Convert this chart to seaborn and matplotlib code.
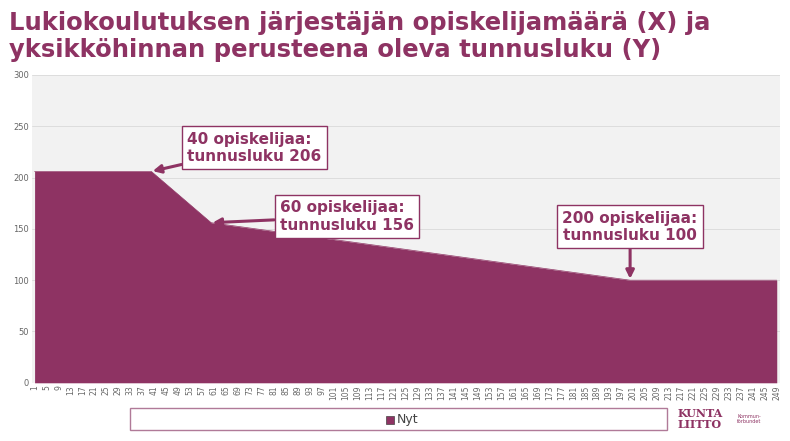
import numpy as np
import matplotlib.pyplot as plt
import seaborn as sns
from matplotlib.patches import Rectangle

# breakpoints of the funding curve
students = [1, 40, 60, 200, 249]
tunnusluku = [206, 206, 156, 100, 100]
x_ticks = list(range(1, 250, 4))
y_ticks = [0, 50, 100, 150, 200, 250, 300]
notes = [(40, 206, "40 opiskelijaa:\ntunnusluku 206"),
         (60, 156, "60 opiskelijaa:\ntunnusluku 156"),
         (200, 100, "200 opiskelijaa:\ntunnusluku 100")]

purple = "#8e3363"
sns.set_style("white")
fig = plt.figure(figsize=(7.9, 4.41), dpi=100)
ax = fig.add_axes([0.04, 0.132, 0.947, 0.698])
ax.set_facecolor("#f2f2f2")

sns.lineplot(x=students, y=tunnusluku, ax=ax, color=purple, lw=0.5)
ax.fill_between(students, tunnusluku, 0, color=purple, lw=0)

ax.set_xlim(0, 250)
ax.set_ylim(0, 300)
ax.set_xticks(x_ticks)
ax.set_xticklabels([str(t) for t in x_ticks], rotation=90, fontsize=5.5, color="#666666")
ax.set_yticks(y_ticks)
ax.set_yticklabels([str(t) for t in y_ticks], fontsize=6, color="#666666")
ax.tick_params(length=0, pad=2)
ax.grid(axis="y", color="#d9d9d9", lw=0.6)
ax.set_axisbelow(True)
for s in ax.spines.values():
    s.set_visible(False)
ax.set_xlabel("")
ax.set_ylabel("")

box = dict(boxstyle="square,pad=0.35", fc="white", ec=purple, lw=1)
arrow = dict(arrowstyle="-|>", color=purple, lw=2.2, mutation_scale=12, shrinkA=0, shrinkB=1)
offsets = [(52, 23), (83, 6), (200, 52)]
for (x, y, txt), (tx, ty) in zip(notes, offsets):
    ha = "center" if x == 200 else "left"
    ax.annotate(txt, xy=(x, y), xytext=(tx, y + ty) if x != 200 else (tx, 152),
                fontsize=11, fontweight="bold", color=purple, ha=ha, va="center",
                bbox=box, arrowprops=arrow)

fig.text(0.012, 0.975, "Lukiokoulutuksen järjestäjän opiskelijamäärä (X) ja\nyksikköhinnan perusteena oleva tunnusluku (Y)",
         fontsize=17.5, fontweight="bold", color=purple, va="top", ha="left", linespacing=1.15)

# legend box
fig.patches.append(Rectangle((130 / 790, 1 - 430 / 441), 537 / 790, 22 / 441,
                             transform=fig.transFigure, fc="white", ec="#b07a98", lw=1))
fig.patches.append(Rectangle((386 / 790, 1 - 424 / 441), 8 / 790, 8 / 441,
                             transform=fig.transFigure, fc=purple, ec="#444444", lw=0.5))
fig.text(397 / 790, 1 - 419 / 441, "Nyt", fontsize=9, color="#444444", va="center")

fig.text(678 / 790, 1 - 419 / 441, "KUNTA\nLIITTO", fontsize=8, fontweight="bold",
         color=purple, va="center", family="DejaVu Serif", linespacing=0.9)
fig.text(737 / 790, 1 - 419 / 441, "Kommun-\nförbundet", fontsize=3.5, color=purple, va="center")

fig.savefig("out.png", dpi=100)
